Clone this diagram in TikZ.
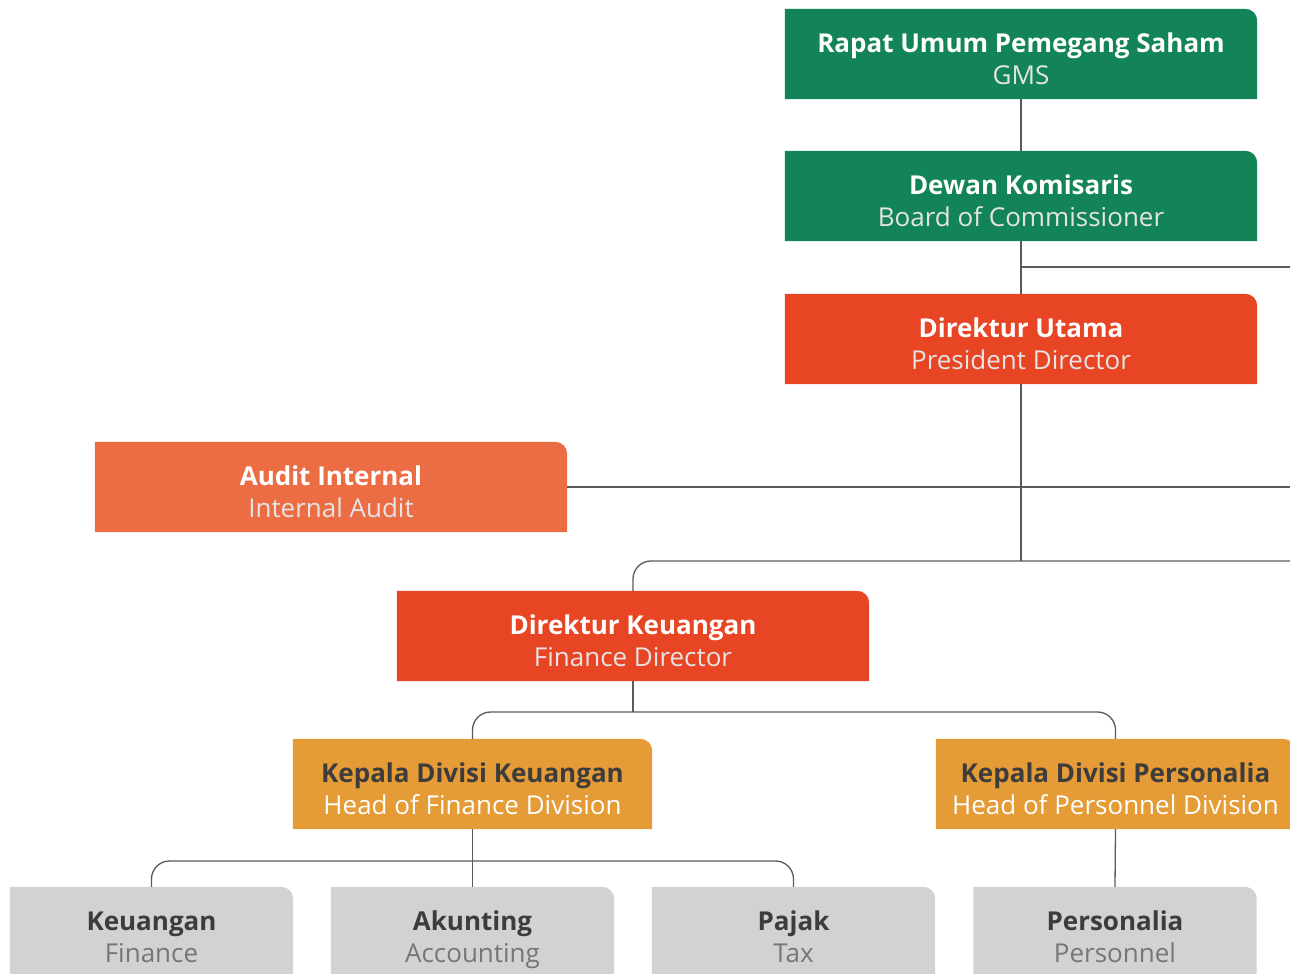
\documentclass[tikz,border=0pt]{standalone}
\usepackage{fontspec}
\setmainfont{Open Sans}
\usetikzlibrary{backgrounds,calc}
\definecolor{cgreen}{HTML}{138457}
\definecolor{cred}{HTML}{E84524}
\definecolor{caudit}{HTML}{EC6D44}
\definecolor{corange}{HTML}{E59B36}
\definecolor{cgray}{HTML}{D1D2D4}
\definecolor{cline}{HTML}{5A5A5A}
\definecolor{csubl}{HTML}{E4E4E4}
\definecolor{cdark}{HTML}{3C3C3C}
\definecolor{csubg}{HTML}{767676}
\newcommand\boxfill[2]{\fill[#2] (#1.south west) -- (#1.north west) -- ([xshift=-12pt]#1.north east) arc[start angle=90,end angle=0,radius=12pt] -- (#1.south east) -- cycle;}
\newcommand\twolines[4]{\rule{0pt}{38pt}{\color{#1}\bfseries #2}\\\strut{\color{#3}#4}}
\begin{document}
\begin{tikzpicture}[x=1pt,y=1pt,
  orgbox/.style={minimum height=90pt,inner sep=0pt,align=center,
    font=\fontsize{26}{32}\selectfont},
  widebox/.style={orgbox,minimum width=472pt},
  midbox/.style={orgbox,minimum width=359pt},
  smallbox/.style={orgbox,minimum width=283pt},
  conn/.style={draw=cline,line width=1.3pt},
  rconn/.style={conn,rounded corners=18pt}]
\useasboundingbox (0,0) rectangle (1290,974);
% nodes
\node[widebox] (gms) at (1021,920) {\twolines{white}{Rapat Umum Pemegang Saham}{csubl}{GMS}};
\node[widebox] (dk) at (1021,778) {\twolines{white}{Dewan Komisaris}{csubl}{Board of Commissioner}};
\node[widebox] (du) at (1021,635) {\twolines{white}{Direktur Utama}{csubl}{President Director}};
\node[widebox] (ai) at (331,487) {\twolines{white}{Audit Internal}{csubl}{Internal Audit}};
\node[widebox] (dkeu) at (633,338) {\twolines{white}{Direktur Keuangan}{csubl}{Finance Director}};
\node[midbox] (kdk) at (472.5,190) {\twolines{cdark}{Kepala Divisi Keuangan}{white}{Head of Finance Division}};
\node[midbox] (kdp) at (1115.5,190) {\twolines{cdark}{Kepala Divisi Personalia}{white}{Head of Personnel Division}};
\node[smallbox] (keu) at (151.5,42) {\twolines{cdark}{Keuangan}{csubg}{Finance}};
\node[smallbox] (aku) at (472.5,42) {\twolines{cdark}{Akunting}{csubg}{Accounting}};
\node[smallbox] (paj) at (793.5,42) {\twolines{cdark}{Pajak}{csubg}{Tax}};
\node[smallbox] (per) at (1115,42) {\twolines{cdark}{Personalia}{csubg}{Personnel}};
% free ends
\coordinate (e1) at (1290,707);
\coordinate (e2) at (1290,487);
\coordinate (e3) at (1290,413);
\coordinate (y4) at (0,262);
\coordinate (y5) at (0,113);
\begin{scope}[on background layer]
\boxfill{gms}{cgreen}
\boxfill{dk}{cgreen}
\boxfill{du}{cred}
\boxfill{ai}{caudit}
\boxfill{dkeu}{cred}
\boxfill{kdk}{corange}
\boxfill{kdp}{corange}
\boxfill{keu}{cgray}
\boxfill{aku}{cgray}
\boxfill{paj}{cgray}
\boxfill{per}{cgray}
% connectors
\draw[conn] (gms.south) -- (dk.north);
\draw[conn] (dk.south) -- (du.north);
\draw[conn] (dk.south |- e1) -- (e1);
\draw[conn] (du.south) -- (du.south |- e3);
\draw[conn] (ai.east) -- (e2);
\draw[rconn] (e3) -- (dkeu.north |- e3) -- (dkeu.north);
\draw[conn] (dkeu.south) -- (dkeu.south |- y4);
\draw[rconn] (kdk.north) -- (kdk.north |- y4) -- (kdp.north |- y4) -- (kdp.north);
\draw[conn] (kdk.south) -- (aku.north);
\draw[rconn] (keu.north) -- (keu.north |- y5) -- (paj.north |- y5) -- (paj.north);
\draw[conn] (kdp.south) -- (per.north);
\end{scope}
\end{tikzpicture}
\end{document}
